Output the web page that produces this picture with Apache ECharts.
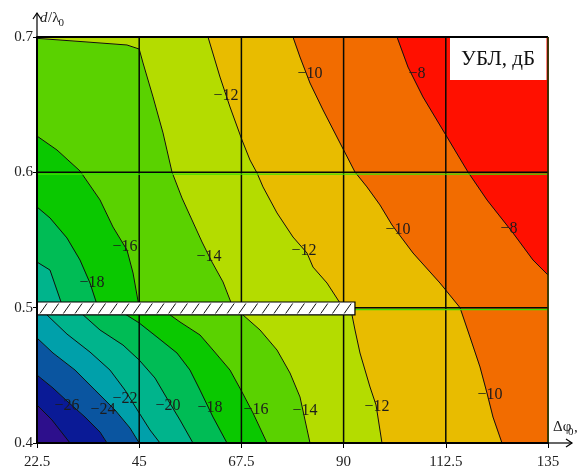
<!DOCTYPE html>
<html>
<head>
<meta charset="utf-8">
<script src="https://cdn.jsdelivr.net/npm/echarts@6/dist/echarts.min.js"></script>
<style>
  html, body { margin: 0; padding: 0; background: #fff; }
  #chart { width: 584px; height: 470px; }
</style>
</head>
<body>
<div id="chart"></div>
<script>
// Axis ticks
const xTicks = [22.5, 45, 67.5, 90, 112.5, 135];
const yTicks = [0.4, 0.5, 0.6, 0.7];

// Contour levels (dB) and the fill of each band: band i lies between levels[i-1] and levels[i]
const levels = [-28, -26, -24, -22, -20, -18, -16, -14, -12, -10, -8];
const bandColors = ['#2d0f8c', '#0a1a96', '#0a55a0', '#00a0aa', '#00b48c', '#00bc55',
                    '#0ac800', '#5ad200', '#b4dc00', '#e8bc00', '#f26c00', '#ff1000'];

// Upper region (d/λ0 from 0.5 to 0.7): isolines as [Δφ0, d/λ0]
const upperM20 = [[22.5, 0.5337], [25.36, 0.5278], [28.22, 0.5]];
const upperM18 = [[22.5, 0.5744], [25.36, 0.5663], [29.10, 0.5515], [31.97, 0.5352], [34.17, 0.5182], [35.93, 0.5]];
const upperM16 = [[22.5, 0.6268], [26.90, 0.6165], [29.32, 0.6091], [31.97, 0.6010], [36.37, 0.5796], [39.23, 0.5596],
                  [42.31, 0.5426], [43.64, 0.5256], [45.0, 0.5]];
const upperM14 = [[22.5, 0.699], [33.51, 0.6963], [42.31, 0.6941], [45.0, 0.6911], [45.84, 0.6808], [48.04, 0.6557],
                  [50.24, 0.6291], [52.22, 0.6002], [54.42, 0.5810], [56.62, 0.5648], [58.83, 0.5485], [61.03, 0.5337],
                  [63.45, 0.5190], [65.65, 0.5]];
const upperM12 = [[60.15, 0.7], [62.79, 0.6704], [64.99, 0.6483], [67.63, 0.6239], [69.39, 0.6091], [70.94, 0.5995],
                  [72.26, 0.5892], [75.34, 0.5700], [78.86, 0.5522], [81.94, 0.5404], [83.26, 0.5300], [86.35, 0.5182],
                  [89.87, 0.5]];
const upperM10 = [[78.86, 0.7], [80.40, 0.6852], [82.60, 0.6660], [85.47, 0.6461], [89.21, 0.6217], [92.51, 0.6002],
                  [95.15, 0.5892], [98.01, 0.5759], [100.66, 0.5611], [105.28, 0.5404], [111.22, 0.5182], [115.63, 0.5]];
const upperM8 = [[101.76, 0.7], [104.18, 0.6778], [107.48, 0.6557], [112.77, 0.6261], [117.39, 0.6002], [121.57, 0.5796],
                 [127.30, 0.5552], [131.70, 0.5352], [135, 0.5241]];

// Lower region (d/λ0 from 0.4 to 0.5)
const lowerM28 = [[22.5, 0.4281], [25.80, 0.4170], [29.77, 0.4]];
const lowerM26 = [[22.5, 0.4502], [26.02, 0.4406], [29.10, 0.4310], [33.07, 0.4192], [36.37, 0.4081], [37.91, 0.4]];
const lowerM24 = [[22.5, 0.4776], [26.02, 0.4665], [30.87, 0.4539], [35.27, 0.4391], [39.67, 0.4244], [42.97, 0.4111], [45.0, 0.4]];
const lowerM22 = [[23.16, 0.5], [24.70, 0.4946], [29.10, 0.4805], [34.17, 0.4672], [38.57, 0.4539], [41.87, 0.4391],
                  [45.0, 0.4222], [47.38, 0.4096], [49.58, 0.4]];
const lowerM20 = [[30.87, 0.5], [36.37, 0.4835], [41.43, 0.4724], [45.0, 0.4613], [48.48, 0.4480], [51.34, 0.4317],
                  [53.98, 0.4170], [56.84, 0.4]];
const lowerM18 = [[39.67, 0.5], [45.0, 0.4887], [48.92, 0.4783], [53.32, 0.4665], [56.18, 0.4539], [58.39, 0.4391],
                  [61.25, 0.4192], [64.33, 0.4]];
const lowerM16 = [[49.58, 0.5], [53.98, 0.4894], [58.39, 0.4798], [61.25, 0.4687], [64.99, 0.4539], [67.63, 0.4377],
                  [70.05, 0.4222], [73.14, 0.4]];
const lowerM14 = [[66.75, 0.5], [67.85, 0.4946], [71.60, 0.4835], [75.34, 0.4687], [78.20, 0.4517], [80.40, 0.4340],
                  [81.50, 0.4170], [82.60, 0.4]];
const lowerM12 = [[91.19, 0.5], [91.85, 0.4946], [92.51, 0.4835], [93.61, 0.4665], [95.81, 0.4414], [97.14, 0.4281], [98.45, 0.4]];
const lowerM10 = [[115.63, 0.5], [117.83, 0.4783], [120.03, 0.4562], [121.57, 0.4369], [122.89, 0.4192], [124.87, 0.4]];

// Isoline labels: [Δφ0, d/λ0, level]
const upperLabels = [[64.11, 0.6564, -12], [82.60, 0.6727, -10], [106.16, 0.6727, -8], [41.87, 0.5448, -16],
                     [34.61, 0.5182, -18], [60.37, 0.5374, -14], [81.28, 0.5419, -12], [101.98, 0.5574, -10],
                     [126.42, 0.5581, -8]];
const lowerLabels = [[29.10, 0.4273, -26], [37.03, 0.4244, -24], [41.87, 0.4325, -22], [51.34, 0.4273, -20],
                     [60.59, 0.4259, -18], [70.71, 0.4244, -16], [81.50, 0.4236, -14], [97.35, 0.4266, -12],
                     [122.23, 0.4355, -10]];

// Hatched strip along d/λ0 = 0.5: [Δφ0 from, Δφ0 to, d/λ0 low, d/λ0 high]
const stripRange = [22.5, 92.5, 0.4946, 0.5042];

const regions = [
  { y0: 0.5, y1: 0.7, lines: [[-20, upperM20], [-18, upperM18], [-16, upperM16], [-14, upperM14],
                              [-12, upperM12], [-10, upperM10], [-8, upperM8]], labels: upperLabels },
  { y0: 0.4, y1: 0.5, lines: [[-28, lowerM28], [-26, lowerM26], [-24, lowerM24], [-22, lowerM22], [-20, lowerM20],
                              [-18, lowerM18], [-16, lowerM16], [-14, lowerM14], [-12, lowerM12], [-10, lowerM10]],
    labels: lowerLabels }
];

const X0 = xTicks[0], X1 = xTicks[xTicks.length - 1];

// Close an isoline along the region border on the side of higher values
function closeAbove(line, x0, x1, y0, y1) {
  const W = x1 - x0, H = y1 - y0;
  function perim(p) {
    const x = p[0], y = p[1];
    const dB = Math.abs(y - y0) / H, dR = Math.abs(x - x1) / W, dT = Math.abs(y - y1) / H, dL = Math.abs(x - x0) / W;
    const m = Math.min(dB, dR, dT, dL);
    if (m === dB) return (x - x0) / W;
    if (m === dR) return 1 + (y - y0) / H;
    if (m === dT) return 2 + (x1 - x) / W;
    return 3 + (y1 - y) / H;
  }
  const tS = perim(line[0]);
  const tE = perim(line[line.length - 1]);
  let tStop = tS; if (tStop < tE) tStop += 4;
  const corners = [[1, [x1, y0]], [2, [x1, y1]], [3, [x0, y1]], [4, [x0, y0]],
                   [5, [x1, y0]], [6, [x1, y1]], [7, [x0, y1]]];
  const pts = line.slice();
  corners.forEach(function (c) { if (c[0] > tE && c[0] < tStop) pts.push(c[1]); });
  return pts;
}

function fmt(v) { return (v < 0 ? '\u2212' : '') + Math.abs(v); }

const SERIF = '"Liberation Serif", "Times New Roman", serif';

function renderBands(params, api) {
  const children = [];
  regions.forEach(function (r) {
    const lowIdx = levels.indexOf(r.lines[0][0]);
    const rect = [[X0, r.y0], [X1, r.y0], [X1, r.y1], [X0, r.y1]].map(function (p) { return api.coord(p); });
    children.push({ type: 'polygon', shape: { points: rect }, style: { fill: bandColors[lowIdx], stroke: null } });
    r.lines.forEach(function (l) {
      const idx = levels.indexOf(l[0]) + 1;
      const pts = closeAbove(l[1], X0, X1, r.y0, r.y1).map(function (p) { return api.coord(p); });
      children.push({ type: 'polygon', shape: { points: pts },
                      style: { fill: bandColors[idx], stroke: bandColors[idx], lineWidth: 0.6 } });
    });
  });
  return { type: 'group', children: children };
}

function renderIsolines(params, api) {
  const children = [];
  regions.forEach(function (r) {
    r.lines.forEach(function (l) {
      const pts = l[1].map(function (p) { return api.coord(p); });
      children.push({ type: 'polyline', shape: { points: pts },
                      style: { fill: null, stroke: '#101010', lineWidth: 1 } });
    });
  });
  return { type: 'group', children: children };
}

function renderGrid(params, api) {
  const children = [];
  const yb = api.coord([X0, 0.4])[1], yt = api.coord([X0, 0.7])[1];
  const xl = api.coord([X0, 0.4])[0], xr = api.coord([X1, 0.4])[0];
  xTicks.slice(1, -1).forEach(function (v) {
    const x = api.coord([v, 0.4])[0];
    children.push({ type: 'line', shape: { x1: x, y1: yt, x2: x, y2: yb },
                    style: { stroke: '#050a05', lineWidth: 1.5 } });
  });
  [0.5, 0.6].forEach(function (v) {
    const y = api.coord([X0, v])[1];
    children.push({ type: 'line', shape: { x1: xl, y1: y + 1.8, x2: xr, y2: y + 1.8 },
                    style: { stroke: '#3ee000', lineWidth: 1.4 } });
    children.push({ type: 'line', shape: { x1: xl, y1: y, x2: xr, y2: y },
                    style: { stroke: '#050505', lineWidth: 1.5 } });
  });
  // frame: top and right edges
  children.push({ type: 'line', shape: { x1: xl, y1: yt, x2: xr, y2: yt }, style: { stroke: '#000', lineWidth: 2 } });
  children.push({ type: 'line', shape: { x1: xr, y1: yt, x2: xr, y2: yb }, style: { stroke: '#1a2a05', lineWidth: 1.6 } });
  return { type: 'group', children: children };
}

function renderLabels(params, api) {
  const children = [];
  regions.forEach(function (r) {
    r.labels.forEach(function (lb) {
      const p = api.coord([lb[0], lb[1]]);
      children.push({ type: 'text', x: p[0], y: p[1],
                      style: { text: fmt(lb[2]), align: 'center', verticalAlign: 'middle',
                               font: '16px ' + SERIF, fill: '#1c1c1c' } });
    });
  });
  return { type: 'group', children: children };
}

function renderStrip(params, api) {
  const a = api.coord([stripRange[0], stripRange[3]]);
  const b = api.coord([stripRange[1], stripRange[2]]);
  const x = a[0], y = a[1], w = b[0] - a[0], h = b[1] - a[1];
  const children = [{ type: 'rect', shape: { x: x, y: y, width: w, height: h },
                      style: { fill: '#fff', stroke: '#000', lineWidth: 1.2 } }];
  const step = 11.7;
  for (let sx = x + 3; sx + 7 < x + w; sx += step) {
    children.push({ type: 'line', shape: { x1: sx, y1: y + h - 1.5, x2: sx + 7, y2: y + 1.5 },
                    style: { stroke: '#111', lineWidth: 1 } });
  }
  return { type: 'group', children: children };
}

function layer(fn, z) {
  return { type: 'custom', coordinateSystem: 'cartesian2d', renderItem: fn, data: [[X0, 0.4]], z: z,
           silent: true, animation: false };
}

const chart = echarts.init(document.getElementById('chart'), null, { renderer: 'canvas' });
chart.setOption({
  animation: false,
  backgroundColor: '#fff',
  grid: { left: 37, right: 36, top: 37, bottom: 27, containLabel: false },
  xAxis: {
    type: 'value', min: xTicks[0], max: xTicks[xTicks.length - 1], interval: 22.5, z: 10,
    axisLine: { lineStyle: { color: '#000', width: 2 } },
    axisTick: { show: true, length: 5, lineStyle: { color: '#000', width: 1 } },
    axisLabel: { fontFamily: SERIF, fontSize: 15, color: '#222', margin: 12 },
    splitLine: { show: false }
  },
  yAxis: {
    type: 'value', min: yTicks[0], max: yTicks[yTicks.length - 1], interval: 0.1, z: 10,
    axisLine: { lineStyle: { color: '#000', width: 2 } },
    axisTick: { show: true, length: 4, lineStyle: { color: '#000', width: 1 } },
    axisLabel: { fontFamily: SERIF, fontSize: 15, color: '#222', margin: 4,
                 formatter: function (v) { return v.toFixed(1); } },
    splitLine: { show: false }
  },
  series: [
    layer(renderBands, 1),
    layer(renderIsolines, 2),
    layer(renderGrid, 3),
    layer(renderLabels, 4),
    layer(renderStrip, 5)
  ],
  graphic: [
    // legend box
    { type: 'rect', z: 20, shape: { x: 450, y: 38, width: 96.5, height: 42 }, style: { fill: '#fff' } },
    { type: 'text', z: 21, x: 498, y: 59,
      style: { text: 'УБЛ, дБ', font: '21px ' + SERIF, fill: '#111', align: 'center', verticalAlign: 'middle' } },
    // y axis arrow
    { type: 'line', z: 20, shape: { x1: 37, y1: 37, x2: 37, y2: 13 }, style: { stroke: '#000', lineWidth: 1.2 } },
    { type: 'polyline', z: 20, shape: { points: [[33, 19], [37, 13], [41, 19]] }, style: { stroke: '#000', lineWidth: 1.2, fill: null } },
    { type: 'text', z: 20, x: 40, y: 26, style: { text: 'd', font: 'italic 15px ' + SERIF, fill: '#222', verticalAlign: 'bottom' } },
    { type: 'text', z: 20, x: 48, y: 26, style: { text: '/λ', font: '15px ' + SERIF, fill: '#222', verticalAlign: 'bottom' } },
    { type: 'text', z: 20, x: 58.5, y: 29, style: { text: '0', font: '11px ' + SERIF, fill: '#222', verticalAlign: 'bottom' } },
    // x axis arrow
    { type: 'line', z: 20, shape: { x1: 548, y1: 443, x2: 572, y2: 443 }, style: { stroke: '#000', lineWidth: 1.2 } },
    { type: 'polyline', z: 20, shape: { points: [[566, 439], [572, 443], [566, 447]] }, style: { stroke: '#000', lineWidth: 1.2, fill: null } },
    { type: 'text', z: 20, x: 553, y: 435, style: { text: 'Δφ', font: '15px ' + SERIF, fill: '#222', verticalAlign: 'bottom' } },
    { type: 'text', z: 20, x: 568, y: 438, style: { text: '0', font: '11px ' + SERIF, fill: '#222', verticalAlign: 'bottom' } },
    { type: 'text', z: 20, x: 574, y: 436, style: { text: ',', font: '15px ' + SERIF, fill: '#222', verticalAlign: 'bottom' } }
  ]
});
</script>
</body>
</html>
